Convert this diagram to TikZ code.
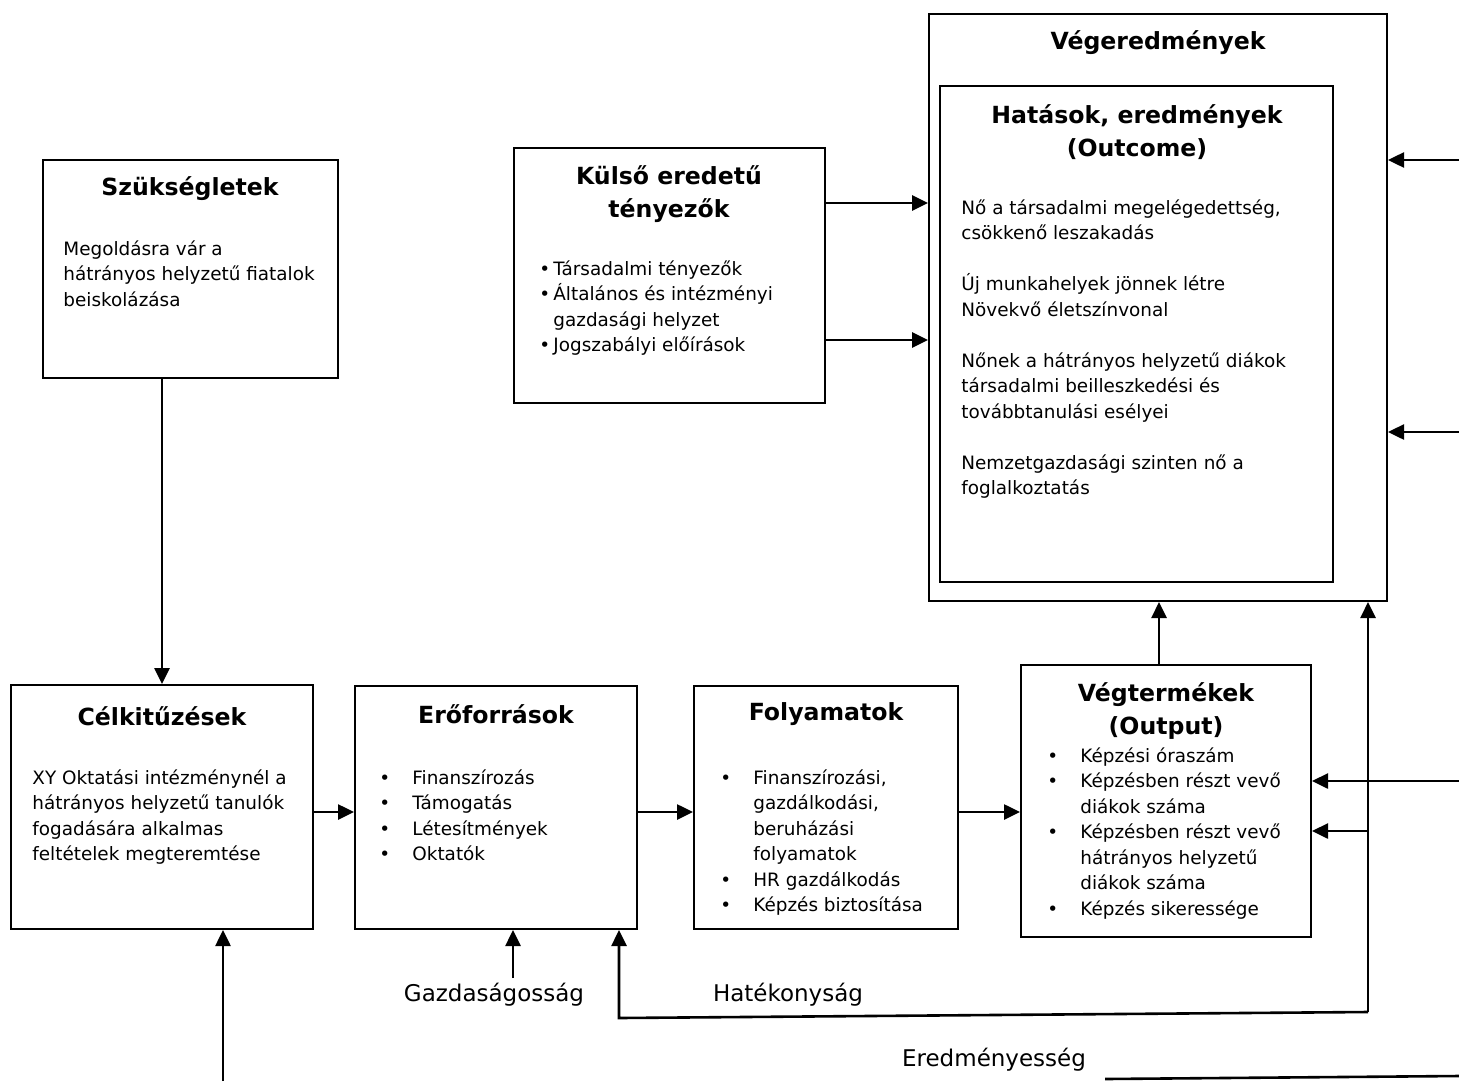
\documentclass[tikz,border=0pt]{standalone}
\usepackage{fontspec}
\setmainfont{DejaVu Sans}
\usetikzlibrary{arrows.meta,fit}
\newcommand{\bul}[1][16.5pt]{\makebox[#1][l]{•}}
\newcommand{\ind}[1][16.5pt]{\hspace*{#1}}
\tikzset{
  box/.style={draw,line width=1pt,inner sep=0pt},
  ttl/.style={font=\bfseries\fontsize{11.8}{16.3}\selectfont,align=center,inner sep=0pt},
  txt/.style={font=\fontsize{9.2}{12.75}\selectfont,align=left,inner sep=0pt,anchor=north west,
    execute at begin node={\rule{0pt}{10pt}}},
  lbl/.style={font=\fontsize{11.5}{14}\selectfont,inner sep=0pt},
  arr/.style={line width=1.3pt,-{Triangle[length=8pt,width=7.5pt]}},
}
\begin{document}
\begin{tikzpicture}[x=0.5pt,y=-0.5pt,line join=miter]
  \useasboundingbox (0,0) rectangle (1459,1081);
  % boxes
  \node[box,fit={(43,160) (338,378)}] (szuk) {};
  \node[box,fit={(514,148) (825,403)}] (kulso) {};
  \node[box,fit={(929,14) (1387,601)}] (veg) {};
  \node[box,fit={(940,86) (1333,582)}] (hat) {};
  \node[box,fit={(11,685) (313,929)}] (cel) {};
  \node[box,fit={(355,686) (637,929)}] (ero) {};
  \node[box,fit={(694,686) (958,929)}] (foly) {};
  \node[box,fit={(1021,665) (1311,937)}] (vtm) {};
  % titles
  \node[ttl] (szukT) at (190,189) {Szükségletek};
  \node[ttl] (kulsoT) at (669,194) {Külső eredetű\\tényezők};
  \node[ttl] (vegT) at (1158,43) {Végeredmények};
  \node[ttl] (hatT) at (1137,132) {Hatások, eredmények\\(Outcome)};
  \node[ttl] (celT) at (162,716) {Célkitűzések};
  \node[ttl] (eroT) at (496,714) {Erőforrások};
  \node[ttl] (folyT) at (826,714) {Folyamatok};
  \node[ttl] (vtmT) at (1166,711) {Végtermékek\\(Output)};
  % texts
  \node[txt] (szukB) at (63,240) {Megoldásra vár a\\hátrányos helyzetű fiatalok\\beiskolázása};
  \node[txt] (kulsoB) at (539,260) {\bul[7pt]Társadalmi tényezők\\\bul[7pt]Általános és intézményi\\\ind[7pt]gazdasági helyzet\\\bul[7pt]Jogszabályi előírások};
  \node[txt] (hatB) at (961,199) {Nő a társadalmi megelégedettség,\\csökkenő leszakadás\\[12.75pt]Új munkahelyek jönnek létre\\Növekvő életszínvonal\\[12.75pt]Nőnek a hátrányos helyzetű diákok\\társadalmi beilleszkedési és\\továbbtanulási esélyei\\[12.75pt]Nemzetgazdasági szinten nő a\\foglalkoztatás};
  \node[txt] (celB) at (32,769) {XY Oktatási intézménynél a\\hátrányos helyzetű tanulók\\fogadására alkalmas\\feltételek megteremtése};
  \node[txt] (eroB) at (379,769) {\bul Finanszírozás\\\bul Támogatás\\\bul Létesítmények\\\bul Oktatók};
  \node[txt] (folyB) at (720,769) {\bul Finanszírozási,\\\ind gazdálkodási,\\\ind beruházási\\\ind folyamatok\\\bul HR gazdálkodás\\\bul Képzés biztosítása};
  \node[txt] (vtmB) at (1047,747) {\bul Képzési óraszám\\\bul Képzésben részt vevő\\\ind diákok száma\\\bul Képzésben részt vevő\\\ind hátrányos helyzetű\\\ind diákok száma\\\bul Képzés sikeressége};
  % labels
  \node[lbl] (gazd) at (494,995) {Gazdaságosság};
  \node[lbl] (hatek) at (788,995) {Hatékonyság};
  \node[lbl] (ered) at (994,1060) {Eredményesség};
  % free ends
  \coordinate (row) at (0,812);
  \coordinate (k1) at (0,203);
  \coordinate (k2) at (0,340);
  \coordinate (r1) at (1459,160);
  \coordinate (r2) at (1459,432);
  \coordinate (r3) at (1459,781);
  \coordinate (up) at (1159,0);
  \coordinate (fbL) at (619,1018);
  \coordinate (fbR) at (1368,1012);
  \coordinate (br) at (0,831);
  \coordinate (gz) at (513,978);
  \coordinate (bl) at (223,1081);
  % connectors
  \draw[arr] (cel.north |- szuk.south) -- (cel.north);
  \draw[arr] (cel.east |- row) -- (ero.west |- row);
  \draw[arr] (ero.east |- row) -- (foly.west |- row);
  \draw[arr] (foly.east |- row) -- (vtm.west |- row);
  \draw[arr] (kulso.east |- k1) -- (veg.west |- k1);
  \draw[arr] (kulso.east |- k2) -- (veg.west |- k2);
  \draw[arr] (r1) -- (veg.east |- r1);
  \draw[arr] (r2) -- (veg.east |- r2);
  \draw[arr] (r3) -- (vtm.east |- r3);
  \draw[arr] (vtm.north -| up) -- (veg.south -| up);
  \draw[arr] (fbR) -- (fbL) -- (ero.south -| fbL);
  \draw[arr] (fbR) -- (veg.south -| fbR);
  \draw[arr] (fbR |- br) -- (vtm.east |- br);
  \draw[arr] (gz) -- (ero.south -| gz);
  \draw[arr] (bl) -- (cel.south -| bl);
  \draw[line width=1.3pt] (1105,1079) -- (1459,1076);
\end{tikzpicture}
\end{document}
